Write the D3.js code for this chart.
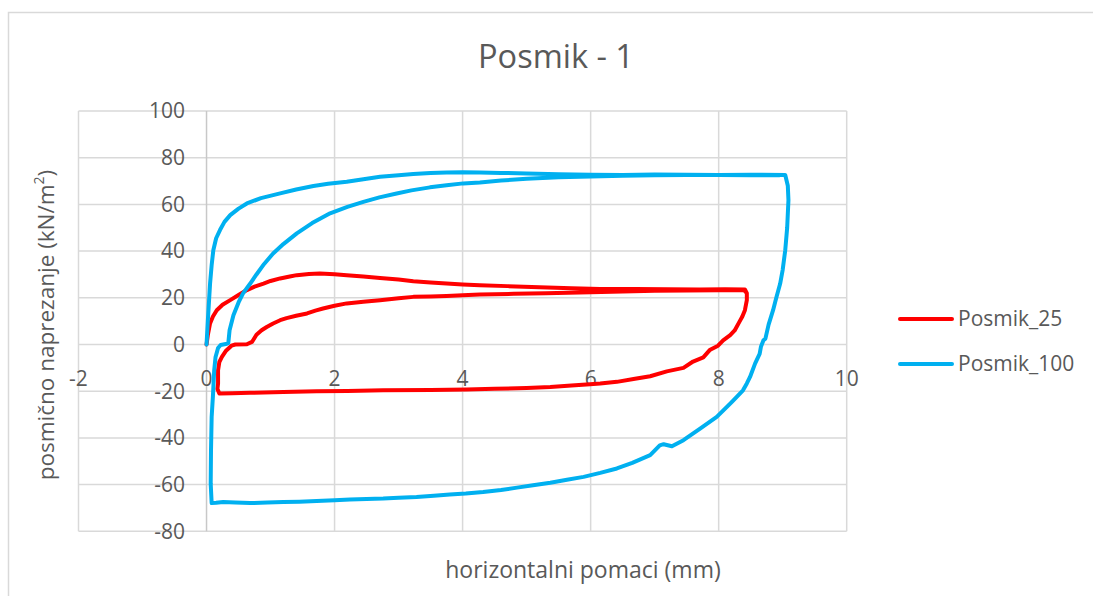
<!DOCTYPE html>
<html>
<head>
<meta charset="utf-8">
<script src="https://cdn.jsdelivr.net/npm/d3@7"></script>
<style>
  body { margin: 0; background: #fff; }
  text { font-family: "Open Sans", "Noto Sans", sans-serif; fill: #595959; }
</style>
</head>
<body>
<div id="chart"></div>
<script>
// data
var xTicks = [-2, 0, 2, 4, 6, 8, 10];
var yTicks = [-80, -60, -40, -20, 0, 20, 40, 60, 80, 100];
var seriesNames = ["Posmik_25", "Posmik_100"];
var seriesColors = ["#ff0000", "#00b0f0"];

var posmik25 = [
  [0,0],[0.02,4],[0.055,9],[0.1,12],[0.16,14.7],[0.25,17],[0.37,19],[0.5,21.2],[0.63,23.3],[0.75,24.8],
  [0.89,26.1],[1.0,27.2],[1.15,28.3],[1.3,29.1],[1.41,29.7],[1.6,30.2],[1.77,30.4],[2.0,30.1],[2.19,29.7],
  [2.45,29.1],[2.71,28.5],[3.0,27.8],[3.23,27.1],[3.5,26.6],[3.75,26.1],[4.0,25.7],[4.27,25.4],[4.7,25],
  [5.2,24.5],[5.7,24.1],[6.15,23.8],[6.7,23.8],[7.2,23.7],[7.7,23.6],[8.1,23.7],[8.41,23.6],[8.44,22],
  [8.44,19],[8.41,14.7],[8.37,12],[8.33,10],[8.25,6],[8.18,4],[8.07,1.8],[7.99,-0.5],[7.86,-2.4],
  [7.76,-5.5],[7.6,-7.3],[7.45,-10],[7.19,-11.5],[6.93,-13.6],[6.67,-14.8],[6.41,-16],[6.15,-16.7],
  [5.99,-17],[5.7,-17.6],[5.37,-18.2],[5.0,-18.6],[4.5,-19],[4.06,-19.3],[3.5,-19.5],[2.76,-19.6],
  [2.2,-19.9],[1.72,-20],[1.2,-20.3],[0.68,-20.7],[0.4,-20.9],[0.2,-21],[0.17,-19],[0.18,-16.7],
  [0.18,-11],[0.2,-7.5],[0.24,-5.3],[0.3,-2.8],[0.39,-0.5],[0.45,0],[0.63,0.1],[0.71,1.1],[0.78,4.2],
  [0.86,6.1],[0.94,7.5],[1.04,9],[1.15,10.4],[1.25,11.3],[1.4,12.3],[1.57,13.3],[1.7,14.5],[1.82,15.4],
  [2.0,16.6],[2.19,17.6],[2.45,18.3],[2.71,19],[3.0,19.8],[3.23,20.4],[3.5,20.6],[3.75,20.8],[4.0,21.1],
  [4.27,21.4],[4.8,21.7],[5.3,22],[6.0,22.4],[6.5,22.7],[7.0,23],[7.5,23.1],[8.0,23.2],[8.4,23.3],[8.42,22.5]
];

var posmik100 = [
  [0,0],[0.02,10],[0.055,26],[0.08,34],[0.106,40.4],[0.15,45.5],[0.21,49],[0.28,52.5],[0.37,55.4],
  [0.5,58.2],[0.63,60.4],[0.85,62.7],[1.15,64.7],[1.4,66.4],[1.67,67.9],[1.9,68.8],[2.19,69.7],
  [2.45,70.8],[2.71,71.8],[3.0,72.5],[3.23,73],[3.5,73.4],[3.75,73.7],[4.0,73.8],[4.27,73.7],[4.6,73.5],
  [5.0,73.2],[5.5,72.9],[6.0,72.7],[6.5,72.6],[7.0,72.8],[7.5,72.7],[8.0,72.6],[8.5,72.7],[9.04,72.6],
  [9.08,68],[9.09,61.8],[9.07,50],[9.04,40.4],[9.0,32],[8.96,26],[8.9,20],[8.85,14.7],[8.78,8.5],
  [8.73,2.5],[8.70,1.8],[8.66,-1],[8.64,-4],[8.57,-8.1],[8.49,-13.9],[8.44,-16.7],[8.38,-19.6],
  [8.23,-23.9],[8.18,-25.3],[7.97,-31],[7.71,-36],[7.45,-41],[7.27,-43.6],[7.14,-42.7],[7.08,-43.2],
  [6.93,-47.4],[6.65,-50.7],[6.41,-53.1],[6.15,-55],[5.89,-56.7],[5.63,-57.9],[5.37,-59.2],[5.1,-60.3],
  [4.85,-61.3],[4.6,-62.3],[4.32,-63.2],[4.05,-63.8],[3.80,-64.2],[3.55,-64.8],[3.28,-65.3],[3.0,-65.6],
  [2.76,-66],[2.5,-66.2],[2.24,-66.4],[2.0,-66.7],[1.72,-67],[1.45,-67.3],[1.2,-67.5],[0.95,-67.7],
  [0.68,-67.9],[0.45,-67.7],[0.26,-67.5],[0.15,-67.8],[0.08,-67.9],[0.065,-59.6],[0.07,-45],[0.08,-31],
  [0.1,-22],[0.12,-11],[0.14,-5.5],[0.18,-1.5],[0.22,-0.2],[0.3,0.2],[0.34,0.6],[0.36,6.1],[0.42,12.5],
  [0.5,18],[0.57,21.9],[0.68,26],[0.78,30],[0.9,34.5],[1.04,39],[1.2,43],[1.41,47.6],[1.65,52],
  [1.93,56.2],[2.2,58.9],[2.45,61.1],[2.7,63],[2.97,64.7],[3.2,66],[3.49,67.3],[3.75,68.2],[4.01,69],
  [4.27,69.4],[4.6,70.2],[5.0,71],[5.5,71.6],[6.0,72],[6.5,72.3],[7.0,72.5],[7.5,72.6],[8.0,72.6],
  [8.5,72.5],[8.95,72.5]
];

var svgWidth = 1093;
var svgHeight = 596;

var svg = d3.select("#chart")
  .append("svg")
  .attr("width", svgWidth)
  .attr("height", svgHeight);

// chart frame
svg.append("rect")
  .attr("x", 8.5)
  .attr("y", 12.5)
  .attr("width", 1200)
  .attr("height", 700)
  .attr("fill", "#fff")
  .attr("stroke", "#d9d9d9")
  .attr("stroke-width", 1.5);

var x = d3.scaleLinear().domain([-2, 10]).range([78.5, 846.7]);
var y = d3.scaleLinear().domain([-80, 100]).range([531.3, 111]);

// grid
svg.append("g").selectAll("line")
  .data(yTicks)
  .enter()
  .append("line")
  .attr("x1", x(-2)).attr("x2", x(10))
  .attr("y1", d => y(d)).attr("y2", d => y(d))
  .attr("stroke", "#d9d9d9")
  .attr("stroke-width", 1.5);

svg.append("g").selectAll("line")
  .data(xTicks)
  .enter()
  .append("line")
  .attr("x1", d => x(d)).attr("x2", d => x(d))
  .attr("y1", y(100)).attr("y2", y(-80))
  .attr("stroke", d => d === 0 ? "#c8c8c8" : "#d9d9d9")
  .attr("stroke-width", 1.5);

// tick labels
svg.append("g").selectAll("text")
  .data(yTicks)
  .enter()
  .append("text")
  .attr("x", 185)
  .attr("y", d => y(d))
  .attr("dy", "0.35em")
  .attr("text-anchor", "end")
  .attr("font-size", 21)
  .text(d => d);

svg.append("g").selectAll("text")
  .data(xTicks)
  .enter()
  .append("text")
  .attr("x", d => x(d))
  .attr("y", y(0) + 34)
  .attr("dy", "0.35em")
  .attr("text-anchor", "middle")
  .attr("font-size", 21)
  .text(d => d);

// lines
var line = d3.line()
  .x(d => x(d[0]))
  .y(d => y(d[1]));

[posmik25, posmik100].forEach(function(s, i) {
  svg.append("path")
    .datum(s)
    .attr("d", line)
    .attr("fill", "none")
    .attr("stroke", seriesColors[i])
    .attr("stroke-width", 4)
    .attr("stroke-linejoin", "round")
    .attr("stroke-linecap", "round");
});

// title
svg.append("text")
  .attr("x", 556)
  .attr("y", 57)
  .attr("dy", "0.35em")
  .attr("text-anchor", "middle")
  .attr("font-size", 32.5)
  .text("Posmik - 1");

// axis titles
svg.append("text")
  .attr("x", 583)
  .attr("y", 570)
  .attr("dy", "0.35em")
  .attr("text-anchor", "middle")
  .attr("font-size", 23)
  .text("horizontalni pomaci (mm)");

var yTitle = svg.append("text")
  .attr("transform", "translate(46, 325) rotate(-90)")
  .attr("dy", "0.35em")
  .attr("text-anchor", "middle")
  .attr("font-size", 22.5);
yTitle.append("tspan").text("posmično naprezanje (kN/m");
yTitle.append("tspan").attr("font-size", 14).attr("dy", "-0.7em").text("2");
yTitle.append("tspan").attr("dy", "0.45em").text(")");

// legend
var legend = svg.append("g").selectAll("g")
  .data(seriesNames)
  .enter()
  .append("g")
  .attr("transform", (d, i) => `translate(0, ${319 + i * 45})`);

legend.append("line")
  .attr("x1", 900).attr("x2", 952)
  .attr("stroke", (d, i) => seriesColors[i])
  .attr("stroke-width", 4)
  .attr("stroke-linecap", "round");

legend.append("text")
  .attr("x", 958)
  .attr("dy", "0.35em")
  .attr("font-size", 21)
  .text(d => d);
</script>
</body>
</html>
